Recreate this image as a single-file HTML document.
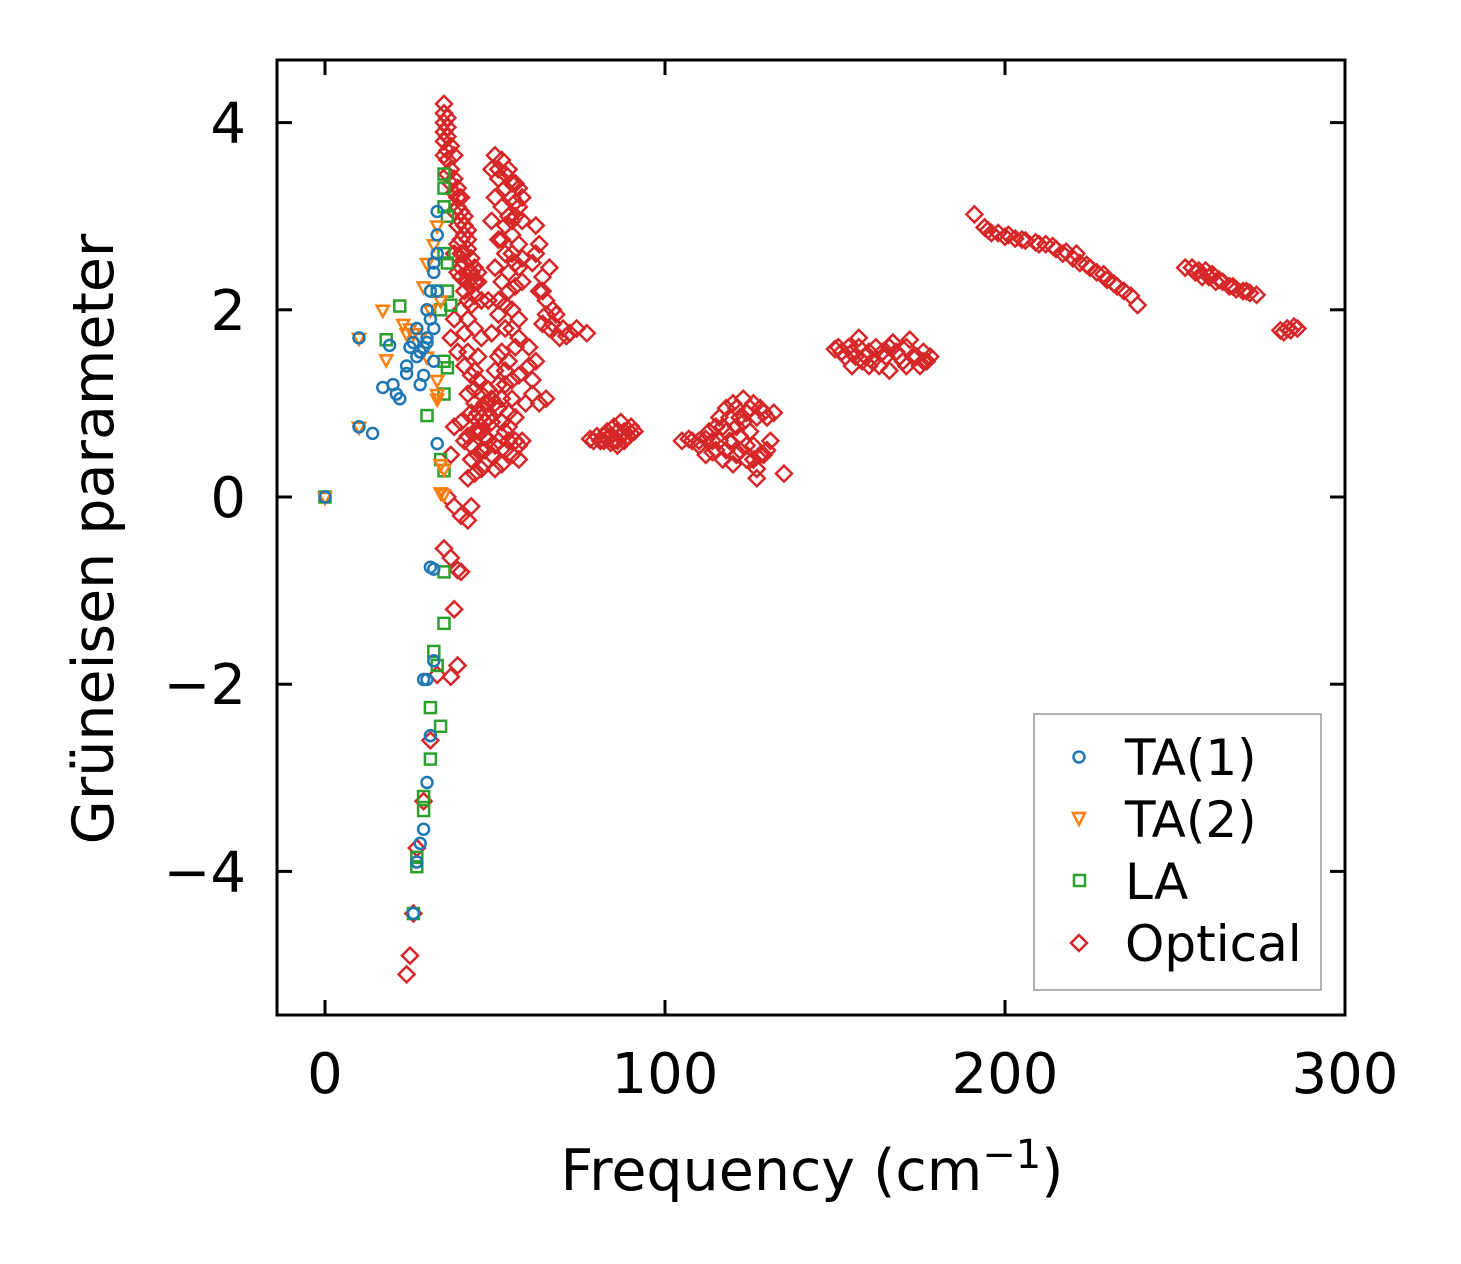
<!DOCTYPE html>
<html><head><meta charset="utf-8">
<style>
html,body{margin:0;padding:0;background:#fff;}
svg{display:block;font-family:"DejaVu Sans","Liberation Sans",sans-serif;}
</style></head>
<body>
<svg id="chart" width="1461" height="1264" viewBox="0 0 1461 1264" xmlns="http://www.w3.org/2000/svg">
<rect width="1461" height="1264" fill="#fff"/>
<g id="marks"></g>
<g id="axes"></g>
<text x="0" y="0" font-size="57" text-anchor="middle" transform="translate(113,539) rotate(-90)">Grüneisen parameter</text>
<text x="812" y="1190" font-size="57" text-anchor="middle">Frequency (cm<tspan dy="-22" font-size="40">−1</tspan><tspan dy="22">)</tspan></text>
<g>
<rect x="1034" y="714" width="287" height="276" fill="#fff" stroke="#999" stroke-width="1.5"/>
<circle cx="1079" cy="757" r="5.5" fill="none" stroke="#1f77b4" stroke-width="2.5"/>
<text x="1125" y="775" font-size="50">TA(1)</text>
<path d="M1073,813 L1085,813 L1079,825 Z" fill="none" stroke="#ff7f0e" stroke-width="2.5"/>
<text x="1125" y="837" font-size="50">TA(2)</text>
<rect x="1074" y="875" width="11" height="11" fill="none" stroke="#2ca02c" stroke-width="2.5"/>
<text x="1125" y="899" font-size="50">LA</text>
<path d="M1079,935 L1087,943 L1079,951 L1071,943 Z" fill="none" stroke="#d62728" stroke-width="2.5"/>
<text x="1125" y="961" font-size="50">Optical</text>
</g>
</svg>
<script>
const xTicks=[0,100,200,300];
const yTicks=[-4,-2,0,2,4];
const yTickLabels=["−4","−2","0","2","4"];
const ta1=[[0,0],[10,1.7],[10,0.75],[14,0.68],[17,1.17],[19,1.62],[20,1.2],[21,1.1],[22,1.05],[24,1.4],[24,1.32],[26,1.65],[27,1.5],[27,1.8],[28,1.2],[29,1.6],[29,1.3],[30,2.0],[30,1.7],[31,1.9],[32,1.8],[32,2.4],[33,2.6],[33,2.8],[33,3.05],[32,1.45],[33,0.57],[31,-0.75],[32,-0.77],[29,-1.95],[30,-1.95],[32,-1.75],[31,-2.55],[30,-3.05],[29,-3.55],[28,-3.7],[27,-3.9],[26,-4.45],[31,2.2],[32,2.5],[33,2.2],[25,1.6],[28,1.55],[30,1.65]];
const ta2=[[0,0],[10,1.7],[10,0.75],[17,2.0],[18,1.47],[23,1.85],[24,1.75],[25,1.8],[28,1.7],[29,2.25],[30,2.5],[31,2.0],[32,2.7],[33,2.9],[34,2.1],[33,1.25],[33,1.1],[34,0.35],[35,0.3],[34,0.05],[35,0.03],[33,1.05],[26,1.75],[30,1.5]];
const la=[[0,0],[18,1.68],[22,2.04],[30,0.87],[33,2.2],[34,2.0],[35,3.45],[35,3.1],[35,2.6],[36,2.5],[36,2.2],[37,2.05],[35,1.45],[36,1.38],[34,0.4],[35,0.28],[35,-0.8],[35,-1.35],[32,-1.65],[33,-1.8],[34,-2.45],[31,-2.25],[31,-2.8],[29,-3.2],[29,-3.35],[27,-3.85],[27,-3.95],[26,-4.45],[35,1.1],[35,3.3],[36,3.0]];
const optical=[[35,4.2],[35,4.1],[36,4.05],[35,4.0],[36,3.95],[35,3.9],[36,3.85],[35,3.8],[37,3.75],[36,3.7],[35,3.65],[38,3.65],[36,3.6],[37,3.5],[36,3.45],[38,3.4],[37,3.35],[39,3.3],[38,3.25],[40,3.2],[39,3.1],[38,3.05],[41,3.0],[40,2.95],[39,2.9],[42,2.85],[41,2.8],[40,2.75],[39,2.7],[42,2.65],[40,2.6],[43,2.55],[41,2.5],[44,2.45],[42,2.4],[40,2.35],[45,2.3],[43,2.25],[41,2.2],[44,2.15],[46,2.1],[43,2.05],[40,2.0],[38,1.9],[37,1.7],[39,1.55],[41,1.4],[43,1.3],[45,1.25],[42,1.1],[44,1.0],[46,0.95],[40,0.8],[38,0.75],[41,0.6],[43,0.55],[45,0.45],[47,0.35],[44,0.25],[42,0.2],[38,-0.1],[40,-0.2],[42,-0.25],[43,-0.1],[35,-0.55],[37,-0.65],[39,-0.78],[40,-0.8],[38,-1.2],[39,-1.8],[37,-1.92],[33,-1.9],[31,-2.6],[29,-3.25],[27,-3.75],[26,-4.45],[25,-4.9],[24,-5.1],[36,0.0],[37,0.45],[44,1.15],[45,0.9],[46,0.7],[47,0.8],[43,0.9],[44,0.7],[46,0.5],[48,0.6],[42,1.9],[44,1.8],[46,1.7],[45,1.5],
[39,3.2],[40,3.05],[41,2.9],[42,2.75],[41,2.6],[43,2.4],[42,2.3],[44,2.3],[45,2.4],[42,2.1],[39,2.4],[38,2.6],[40,2.45],[41,1.75],[42,1.55],[44,1.35],[46,1.1],[47,1.0],[45,0.7],[47,0.5],[43,0.4],[42,0.65],[44,0.85],[48,0.85],[49,1.05],[46,0.3],
[50,3.65],[52,3.6],[49,3.5],[54,3.5],[51,3.4],[55,3.35],[53,3.3],[57,3.3],[50,3.2],[56,3.15],[52,3.1],[54,3.0],[58,3.2],[49,2.95],[55,2.8],[51,2.75],[57,2.7],[53,2.6],[56,2.5],[50,2.45],[58,2.55],[52,2.3],[54,2.2],[48,2.1],[55,2.0],[51,1.95],[57,1.9],[53,1.8],[49,1.75],[56,1.6],[52,1.55],[54,1.45],[50,1.35],[57,1.3],[53,1.2],[48,1.15],[55,1.05],[51,0.95],[56,0.85],[49,0.8],[53,0.7],[58,0.6],[50,0.55],[55,0.45],[52,0.35],[57,0.4],[47,0.65],[46,0.85],[48,1.0],[54,0.9],[59,1.0],[51,3.5],[53,3.45],[55,3.2],[56,3.0],[53,2.9],[52,2.75],[55,2.6],[54,2.4],[51,2.1],[50,1.0],[52,0.8],[54,0.6],[51,0.6],
[56,3.35],[57,3.1],[58,2.95],[55,2.95],[57,2.45],[58,2.3],[56,2.25],[53,2.05],[55,1.8],[57,1.7],[51,1.5],[53,1.35],[55,1.25],[51,1.2],[52,1.05],[54,0.75],[56,0.6],[57,0.55],[53,0.5],[49,0.45],[50,0.3],
[62,2.9],[63,2.7],[61,2.5],[64,2.35],[66,2.45],[63,2.2],[65,2.1],[67,2.0],[64,1.85],[68,1.95],[66,1.8],[70,1.8],[69,1.7],[72,1.75],[74,1.8],[77,1.75],[62,1.45],[60,1.4],[61,1.1],[63,1.0],[65,1.05],[60,1.6],[62,2.6],[64,2.2],[65,1.95],[67,1.85],[71,1.72],[61,1.25],
[78,0.62],[80,0.65],[82,0.6],[83,0.7],[84,0.65],[85,0.75],[86,0.6],[87,0.8],[88,0.7],[89,0.65],[90,0.75],[91,0.7],[86,0.55],[84,0.58],[81,0.6],[88,0.6],[79,0.6],[82,0.65],[85,0.6],[86,0.7],[87,0.65],[89,0.72],[90,0.68],[83,0.62],
[105,0.6],[108,0.6],[110,0.55],[112,0.45],[113,0.7],[115,0.5],[116,0.85],[117,0.4],[118,0.95],[119,0.6],[120,1.0],[121,0.75],[122,0.5],[123,1.05],[124,0.9],[125,0.7],[126,0.4],[127,0.3],[128,0.95],[129,0.45],[130,0.85],[131,0.6],[132,0.9],[127,0.2],[135,0.25],[115,0.75],[120,0.35],[124,0.55],[118,0.7],[122,0.85],[126,1.0],[114,0.6],
[107,0.62],[110,0.6],[112,0.62],[114,0.48],[116,0.6],[117,0.75],[119,0.85],[121,0.95],[122,0.65],[123,0.8],[125,0.95],[126,0.55],[127,0.85],[128,0.45],[129,0.9],[130,0.5],[124,0.4],[121,0.45],[118,0.5],
[150,1.58],[152,1.55],[154,1.6],[156,1.5],[157,1.7],[158,1.45],[160,1.55],[162,1.6],[163,1.4],[165,1.5],[166,1.35],[167,1.65],[168,1.55],[170,1.45],[171,1.6],[172,1.68],[173,1.5],[175,1.4],[176,1.55],[177,1.45],[155,1.4],[160,1.4],
[151,1.6],[153,1.5],[155,1.55],[157,1.6],[159,1.5],[161,1.45],[164,1.55],[166,1.6],[169,1.5],[171,1.4],[174,1.5],[176,1.45],[178,1.5],
[191,3.02],[194,2.88],[196,2.82],[198,2.82],[200,2.78],[203,2.76],[206,2.74],[209,2.72],[212,2.7],[215,2.65],[218,2.62],[220,2.55],[222,2.5],[225,2.45],[227,2.4],[230,2.32],[232,2.28],[235,2.2],[237,2.15],[239,2.05],[214,2.68],[221,2.6],[195,2.85],[201,2.8],[205,2.75],[210,2.7],[217,2.6],[224,2.48],[229,2.38],[233,2.25],
[253,2.45],[255,2.45],[257,2.42],[259,2.42],[261,2.38],[262,2.3],[264,2.3],[266,2.25],[268,2.22],[270,2.2],[272,2.18],[274,2.16],[258,2.35],[256,2.4],[260,2.35],[263,2.32],[267,2.25],[271,2.2],
[281,1.78],[283,1.8],[285,1.82],[284,1.78],[286,1.8],[282,1.76]];

const NS="http://www.w3.org/2000/svg";
const L=277,R=1345,T=60,B=1015;
function sx(f){return 325+f*3.4;}
function sy(g){return 497-g*93.6;}
const marks=document.getElementById('marks');
const axes=document.getElementById('axes');
function mk(tag,attrs,parent){const e=document.createElementNS(NS,tag);for(const k in attrs)e.setAttribute(k,attrs[k]);parent.appendChild(e);return e;}
optical.forEach(p=>{const x=sx(p[0]),y=sy(p[1]);
 const e=mk('path',{d:`M${x},${y-8} L${x+8},${y} L${x},${y+8} L${x-8},${y} Z`,fill:'none',stroke:'#d62728','stroke-width':2.5},marks);
 
 });
la.forEach(p=>{const x=sx(p[0]),y=sy(p[1]);
 const e=mk('rect',{x:x-5.5,y:y-5.5,width:11,height:11,fill:'none',stroke:'#2ca02c','stroke-width':2.5},marks);
 
 });
ta2.forEach(p=>{const x=sx(p[0]),y=sy(p[1]);
 const e=mk('path',{d:`M${x-6},${y-4} L${x+6},${y-4} L${x},${y+7} Z`,fill:'none',stroke:'#ff7f0e','stroke-width':2.5},marks);
 
 });
ta1.forEach(p=>{const x=sx(p[0]),y=sy(p[1]);
 const e=mk('circle',{cx:x,cy:y,r:5.5,fill:'none',stroke:'#1f77b4','stroke-width':2.5},marks);
 
 });
const frame=mk('rect',{x:L,y:T,width:R-L,height:B-T,fill:'none',stroke:'#000','stroke-width':3},axes);


xTicks.forEach(v=>{const x=sx(v);
 mk('line',{x1:x,y1:B,x2:x,y2:B-15,stroke:'#000','stroke-width':3},axes);
 mk('line',{x1:x,y1:T,x2:x,y2:T+15,stroke:'#000','stroke-width':3},axes);
 const t=mk('text',{x:x,y:1093,'font-size':56,'text-anchor':'middle'},axes);t.textContent=v;
 
 });
yTicks.forEach((v,i)=>{const y=sy(v);
 mk('line',{x1:L,y1:y,x2:L+15,y2:y,stroke:'#000','stroke-width':3},axes);
 mk('line',{x1:R,y1:y,x2:R-15,y2:y,stroke:'#000','stroke-width':3},axes);
 const t=mk('text',{x:246,y:y+20,'font-size':56,'text-anchor':'end'},axes);t.textContent=yTickLabels[i];
 
 });
</script>
</body></html>
